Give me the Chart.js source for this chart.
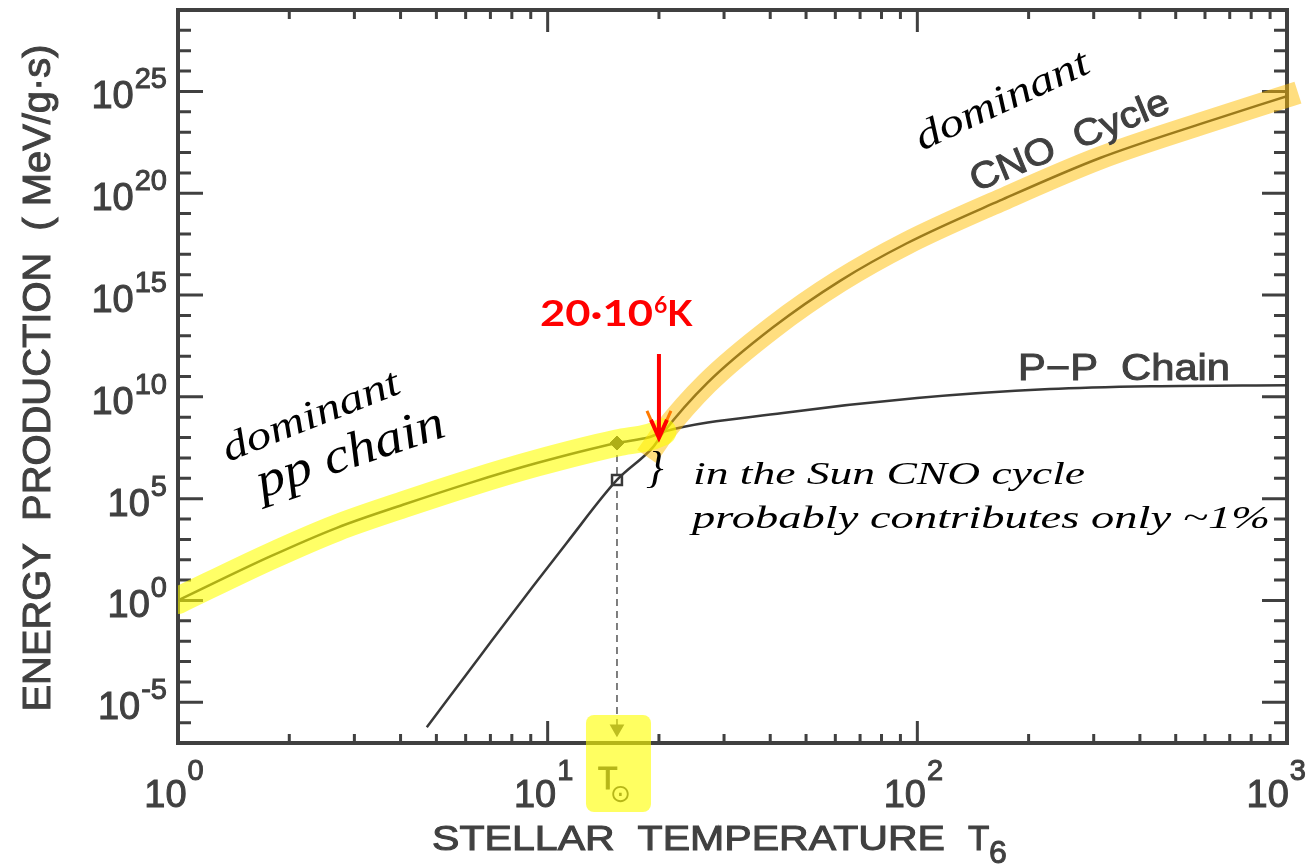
<!DOCTYPE html>
<html>
<head>
<meta charset="utf-8">
<script src="https://cdn.jsdelivr.net/npm/chart.js@4/dist/chart.umd.min.js"></script>
<style>
  html, body { margin: 0; padding: 0; background: #fff; }
  #wrap { width: 1309px; height: 868px; }
</style>
</head>
<body>
<div id="wrap"><canvas id="energyChart" width="1309" height="868"></canvas></div>
<script>
// stellar temperature T6 (10^6 K) and energy production (MeV/g·s)
const ppTemp = [1.0, 1.77, 2.69, 4.06, 6.17, 9.35, 15.4, 18.9, 20.5, 43.3, 99.8, 228, 434, 1000];
const ppRate = [1.0, 141, 3.7e3, 5.0e4, 6.0e5, 5.6e6, 5.4e7, 1.07e8, 1.9e8, 1.6e9, 8.7e9, 2.4e10, 3.3e10, 3.7e10];
const cnoTemp = [4.71, 6.68, 9.12, 11.27, 15.4, 19.3, 20.5, 27, 40.7, 61.8, 93.7, 167, 312, 581, 1000];
const cnoRate = [6.0e-7, 2.8e-3, 4.9, 690, 8.3e5, 3.5e7, 1.66e8, 4.7e10, 2.6e13, 5.0e15, 3.5e17, 4.3e19, 5.4e21, 2.5e23, 5.9e24];

// the sun (T_sun) and the crossover point
const sunTemp = 15.4;
const sunRate = [5.4e7, 8.3e5, 5e-7]; // pp, cno, arrow tip on the axis
const crossTemp = 20;
const crossRate = 1.9e8;

// axis ticks
const xTicks = [1, 10, 100, 1000];
const xTickExp = ['0', '1', '2', '3'];
const yTicks = [1e-5, 1, 1e5, 1e10, 1e15, 1e20, 1e25];
const yTickExp = ['-5', '0', '5', '10', '15', '20', '25'];

const GRAY = '#404040';
const LINE = '#383838';

const pts = (xs, ys) => xs.map((x, i) => ({ x: x, y: ys[i] }));

function txt(ctx, s, x, y, o) {
    ctx.save();
    ctx.font = o.font;
    ctx.fillStyle = o.color || GRAY;
    ctx.strokeStyle = o.color || GRAY;
    ctx.lineWidth = o.heavy || 0;
    ctx.textBaseline = 'alphabetic';
    ctx.textAlign = 'left';
    ctx.translate(x, y);
    if (o.angle) ctx.rotate(o.angle * Math.PI / 180);
    const w = ctx.measureText(s).width;
    if (o.width) ctx.scale(o.width / w, 1);
    const dx = o.align === 'center' ? -w / 2 : (o.align === 'right' ? -w : 0);
    ctx.fillText(s, dx, 0);
    if (o.heavy) ctx.strokeText(s, dx, 0);
    ctx.restore();
}

function pow10(ctx, exp, x, y, align, rise, maxRight) {
    const baseFont = '38px "Liberation Sans"';
    const expFont = '29px "Liberation Sans"';
    ctx.save();
    ctx.font = baseFont;
    const wb = ctx.measureText('10').width;
    ctx.font = expFont;
    const we = ctx.measureText(exp).width;
    const w = wb + 1 + we;
    let x0 = align === 'right' ? x - w : x - w / 2;
    if (maxRight) x0 = Math.min(x0, maxRight - w);
    ctx.restore();
    txt(ctx, '10', x0, y, { font: baseFont, heavy: 1 });
    txt(ctx, exp, x0 + wb + 1, y - rise, { font: expFont, heavy: 1 });
}

const decorations = {
    id: 'decorations',
    beforeDatasetsDraw(chart) {
        const { ctx, chartArea: a, scales: { x, y } } = chart;
        ctx.save();
        ctx.strokeStyle = GRAY;
        ctx.lineWidth = 3;
        ctx.beginPath();
        // y ticks every decade, longer every 5 decades, on both sides
        for (let e = -6; e <= 28; e++) {
            const py = y.getPixelForValue(Math.pow(10, e));
            const len = e % 5 === 0 ? 25 : 13;
            ctx.moveTo(a.left, py); ctx.lineTo(a.left + len, py);
            ctx.moveTo(a.right, py); ctx.lineTo(a.right - len, py);
        }
        // x ticks 1..9 per decade, top and bottom
        for (let d = 0; d < 3; d++) {
            for (let m = 1; m <= 9; m++) {
                if (d === 0 && m === 1) continue;
                const px = x.getPixelForValue(m * Math.pow(10, d));
                const len = m === 1 ? 22 : 9;
                ctx.moveTo(px, a.bottom); ctx.lineTo(px, a.bottom - len);
                ctx.moveTo(px, a.top); ctx.lineTo(px, a.top + len);
            }
        }
        ctx.stroke();
        ctx.lineWidth = 4;
        ctx.strokeRect(a.left, a.top, a.right - a.left, a.bottom - a.top);
        ctx.restore();
    },
    afterDraw(chart) {
        const { ctx, chartArea: a, scales: { x, y } } = chart;

        // tick labels
        yTicks.forEach((v, i) => pow10(ctx, yTickExp[i], a.left - 11, y.getPixelForValue(v) + 17, 'right', 20));
        xTicks.forEach((v, i) => pow10(ctx, xTickExp[i], x.getPixelForValue(v) - 4, a.bottom + 64, 'center', 27, 1306));

        // axis titles
        txt(ctx, 'ENERGY  PRODUCTION  ( MeV/g·s)', 50, 378, { font: '38px "Liberation Sans"', angle: -90, align: 'center', width: 667, heavy: 1 });
        txt(ctx, 'STELLAR  TEMPERATURE', 432, 850, { font: '35px "Liberation Sans"', width: 513, heavy: 1 });
        txt(ctx, 'T', 968, 850, { font: '35px "Liberation Sans"', heavy: 1 });
        txt(ctx, '6', 989, 863, { font: '32px "Liberation Sans"', heavy: 1 });

        // T_sun label with highlighter box
        const sx = x.getPixelForValue(sunTemp);
        txt(ctx, 'T', sx - 19, 789, { font: '32px "Liberation Sans"', heavy: 1 });
        txt(ctx, '⊙', sx - 7, 802, { font: '25px "DejaVu Sans"' });
        ctx.save();
        ctx.fillStyle = 'rgba(255, 255, 0, 0.62)';
        ctx.beginPath();
        ctx.roundRect(sx - 31, a.bottom - 28, 65, 97, 8);
        ctx.fill();
        ctx.restore();

        // printed curve labels
        txt(ctx, 'P−P  Chain', 1018, 380, { font: '37px "Liberation Sans"', width: 212, heavy: 1 });
        txt(ctx, 'CNO  Cycle', 976, 192, { font: '37px "Liberation Sans"', angle: -22.5, width: 212, heavy: 1 });

        // handwritten notes
        const hand = (size) => 'italic ' + size + 'px "Liberation Serif"';
        txt(ctx, 'dominant', 922, 151, { font: hand(40), color: '#000', angle: -25, width: 188 });
        txt(ctx, 'dominant', 228, 462, { font: hand(40), color: '#000', angle: -21.7, width: 188 });
        txt(ctx, 'pp chain', 262, 498, { font: hand(50), color: '#000', angle: -18.5, width: 196 });
        txt(ctx, '}', 646, 482, { font: hand(44), color: '#000' });
        txt(ctx, 'in the Sun CNO cycle', 693, 484, { font: hand(32), color: '#000', width: 392 });
        txt(ctx, 'probably contributes only ~1%', 692, 528, { font: hand(32), color: '#000', width: 578 });

        // red marker at 20 million K
        const cx = x.getPixelForValue(crossTemp);
        const cy = y.getPixelForValue(crossRate);
        ctx.save();
        ctx.strokeStyle = '#ff7a00';
        ctx.lineWidth = 3;
        ctx.beginPath();
        ctx.moveTo(cx - 12, cy - 21); ctx.lineTo(cx, cy + 6); ctx.lineTo(cx + 12, cy - 21);
        ctx.stroke();
        ctx.strokeStyle = '#ff0000';
        ctx.lineWidth = 4;
        ctx.beginPath();
        ctx.moveTo(cx, cy - 78); ctx.lineTo(cx, cy + 6);
        ctx.moveTo(cx - 8, cy - 12); ctx.lineTo(cx, cy + 6); ctx.lineTo(cx + 8, cy - 12);
        ctx.stroke();
        ctx.restore();
        txt(ctx, '20·10', 540, 326, { font: 'bold 37px "Lato"', color: '#ff0000', width: 113 });
        txt(ctx, '6', 654, 313, { font: 'bold 23px "Lato"', color: '#ff0000' });
        txt(ctx, 'K', 667, 326, { font: 'bold 37px "Lato"', color: '#ff0000' });
    }
};

const ppPoints = pts(ppTemp, ppRate);
const cnoPoints = pts(cnoTemp, cnoRate);

new Chart(document.getElementById('energyChart'), {
    type: 'scatter',
    data: {
        datasets: [
            {
                label: 'pp highlight',
                data: ppPoints.filter(p => p.x <= 20.5),
                showLine: true,
                borderColor: 'rgba(255, 255, 0, 0.6)',
                borderWidth: 27,
                borderCapStyle: 'round',
                cubicInterpolationMode: 'monotone',
                pointRadius: 0,
                order: 0
            },
            {
                label: 'cno highlight',
                data: cnoPoints.filter(p => p.x >= 19.3),
                showLine: true,
                borderColor: 'rgba(255, 190, 0, 0.5)',
                borderWidth: 23,
                borderCapStyle: 'square',
                cubicInterpolationMode: 'monotone',
                pointRadius: 0,
                clip: false,
                order: 0
            },
            {
                label: 'P-P Chain',
                data: ppPoints,
                showLine: true,
                borderColor: LINE,
                borderWidth: 2.5,
                cubicInterpolationMode: 'monotone',
                pointRadius: 0,
                order: 1
            },
            {
                label: 'CNO Cycle',
                data: cnoPoints,
                showLine: true,
                borderColor: LINE,
                borderWidth: 2.5,
                cubicInterpolationMode: 'monotone',
                pointRadius: 0,
                order: 1
            },
            {
                label: 'sun drop line',
                data: [{ x: sunTemp, y: sunRate[0] }, { x: sunTemp, y: sunRate[2] }],
                showLine: true,
                borderColor: '#555',
                borderWidth: 1.5,
                borderDash: [7, 5],
                pointRadius: [0, 7],
                pointStyle: 'triangle',
                pointRotation: 180,
                pointBackgroundColor: '#555',
                pointBorderColor: '#555',
                order: 2
            },
            {
                label: 'sun pp',
                data: [{ x: sunTemp, y: sunRate[0] }],
                pointStyle: 'rectRot',
                pointRadius: 7,
                pointBackgroundColor: LINE,
                pointBorderColor: LINE,
                order: 1
            },
            {
                label: 'sun cno',
                data: [{ x: sunTemp, y: sunRate[1] }],
                pointStyle: 'rect',
                pointRadius: 7,
                pointBackgroundColor: '#fff',
                pointBorderColor: LINE,
                pointBorderWidth: 2.5,
                order: 1
            }
        ]
    },
    options: {
        responsive: false,
        animation: false,
        layout: { padding: { left: 178, right: 22, top: 10, bottom: 125 } },
        plugins: { legend: { display: false }, tooltip: { enabled: false } },
        scales: {
            x: {
                type: 'logarithmic',
                min: 1,
                max: 1000,
                grid: { display: false, drawTicks: false },
                border: { display: false },
                ticks: { display: false }
            },
            y: {
                type: 'logarithmic',
                min: 1e-7,
                max: 1e29,
                grid: { display: false, drawTicks: false },
                border: { display: false },
                ticks: { display: false }
            }
        }
    },
    plugins: [decorations]
});
</script>
</body>
</html>
